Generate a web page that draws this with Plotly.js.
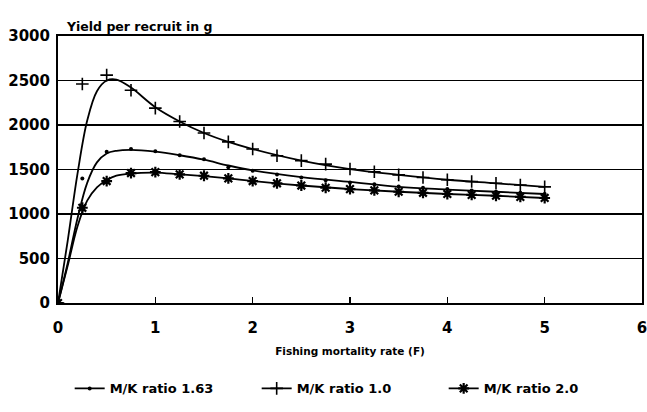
<!DOCTYPE html>
<html>
<head>
<meta charset="utf-8">
<script src="https://cdn.plot.ly/plotly-3.0.1.min.js"></script>
<style>
  html, body { margin: 0; padding: 0; background: #fff; }
  #chart { width: 647px; height: 412px; }
</style>
</head>
<body>
<div id="chart"></div>
<script>
// Observed data points (fishing mortality F)
const F = [0, 0.25, 0.5, 0.75, 1.0, 1.25, 1.5, 1.75, 2.0, 2.25, 2.5, 2.75, 3.0, 3.25, 3.5, 3.75, 4.0, 4.25, 4.5, 4.75, 5.0];
const ratio163 = [0, 1400, 1700, 1730, 1705, 1660, 1615, 1525, 1485, 1445, 1410, 1380, 1355, 1335, 1310, 1295, 1280, 1265, 1250, 1238, 1225];
const ratio10  = [0, 2460, 2560, 2390, 2190, 2040, 1910, 1810, 1730, 1655, 1600, 1560, 1505, 1475, 1440, 1410, 1385, 1365, 1345, 1325, 1305];
const ratio20  = [0, 1070, 1370, 1460, 1470, 1445, 1430, 1400, 1370, 1345, 1320, 1295, 1280, 1265, 1250, 1238, 1225, 1215, 1205, 1192, 1180];

// Fitted curves
const curveF = [0, 0.1, 0.2, 0.3, 0.4, 0.5, 0.6, 0.75, 1.0, 1.25, 1.5, 1.75, 2.0, 2.5, 3.0, 3.5, 4.0, 4.5, 5.0];
const curve163 = [0, 450, 950, 1350, 1580, 1680, 1710, 1720, 1700, 1660, 1610, 1545, 1490, 1415, 1360, 1305, 1275, 1250, 1225];
const curve10  = [0, 700, 1450, 2050, 2380, 2500, 2510, 2420, 2200, 2040, 1910, 1810, 1730, 1600, 1505, 1440, 1385, 1345, 1305];
const curve20  = [0, 420, 860, 1150, 1300, 1380, 1430, 1455, 1465, 1445, 1425, 1400, 1370, 1320, 1280, 1250, 1225, 1205, 1180];

const xTicks = [0, 1, 2, 3, 4, 5, 6];
const yTicks = [0, 500, 1000, 1500, 2000, 2500, 3000];
const names = ['M/K ratio 1.63', 'M/K ratio 1.0', 'M/K ratio 2.0'];

const FONT = 'DejaVu Sans, Verdana, sans-serif';
const LW = 1.8;

const mk163 = {symbol: 'circle', size: 4, color: '#000'};
const mk10 = {symbol: 'cross-thin-open', size: 9, color: '#000', line: {color: '#000', width: 1.6}};
const mk20 = {symbol: 'asterisk-open', size: 9, color: '#000', line: {color: '#000', width: 2.2}};

const traces = [
  {x: curveF, y: curve163, mode: 'lines', line: {color: '#000', width: LW, shape: 'spline'}, showlegend: false, hoverinfo: 'skip'},
  {x: curveF, y: curve10, mode: 'lines', line: {color: '#000', width: LW, shape: 'spline'}, showlegend: false, hoverinfo: 'skip'},
  {x: curveF, y: curve20, mode: 'lines', line: {color: '#000', width: LW, shape: 'spline'}, showlegend: false, hoverinfo: 'skip'},
  {x: F, y: ratio163, mode: 'markers', marker: mk163, showlegend: false},
  {x: F, y: ratio10, mode: 'markers', marker: mk10, showlegend: false},
  {x: F, y: ratio20, mode: 'markers', marker: mk20, showlegend: false},
  // legend entries
  {x: [null], y: [null], name: names[0], mode: 'lines+markers', line: {color: '#000', width: LW}, marker: mk163},
  {x: [null], y: [null], name: names[1], mode: 'lines+markers', line: {color: '#000', width: LW}, marker: mk10},
  {x: [null], y: [null], name: names[2], mode: 'lines+markers', line: {color: '#000', width: LW}, marker: mk20}
];

const layout = {
  width: 647, height: 412,
  margin: {l: 58, r: 5, t: 36, b: 109},
  paper_bgcolor: '#fff', plot_bgcolor: '#fff',
  font: {family: FONT, color: '#000', weight: 'bold'},
  showlegend: true,
  legend: {
    orientation: 'h', x: 0.02, y: -0.32, xanchor: 'left', yanchor: 'middle',
    font: {family: FONT, size: 13, color: '#000', weight: 'bold'},
    itemwidth: 30, entrywidth: 142, entrywidthmode: 'pixels', bgcolor: 'rgba(0,0,0,0)'
  },
  xaxis: {
    range: [0, 6], tickvals: xTicks, ticktext: xTicks.map(String),
    showgrid: false, zeroline: false,
    showline: true, linecolor: '#000', linewidth: 2, mirror: true,
    ticks: 'inside', ticklen: 6, tickwidth: 1.5, tickcolor: '#000',
    ticklabelstandoff: 10, ticklabeloverflow: 'allow',
    tickfont: {family: FONT, size: 15, color: '#000', weight: 'bold'},
    title: {text: 'Fishing mortality rate (F)', font: {family: FONT, size: 10.5, color: '#000', weight: 'bold'}, standoff: 12}
  },
  yaxis: {
    range: [0, 3000], tickvals: yTicks, ticktext: yTicks.map(String),
    showgrid: true, gridcolor: '#000', gridwidth: 1.6, zeroline: false,
    showline: true, linecolor: '#000', linewidth: 2, mirror: true,
    ticks: '', ticklabelstandoff: 3,
    tickfont: {family: FONT, size: 15, color: '#000', weight: 'bold'}
  },
  annotations: [{
    text: 'Yield per recruit in g', xref: 'paper', yref: 'paper',
    x: 0.01, y: 1.0, xanchor: 'left', yanchor: 'bottom', yshift: 0, showarrow: false,
    font: {family: FONT, size: 12.5, color: '#000', weight: 'bold'}
  }]
};

Plotly.newPlot('chart', traces, layout, {displayModeBar: false, staticPlot: true});
</script>
</body>
</html>
